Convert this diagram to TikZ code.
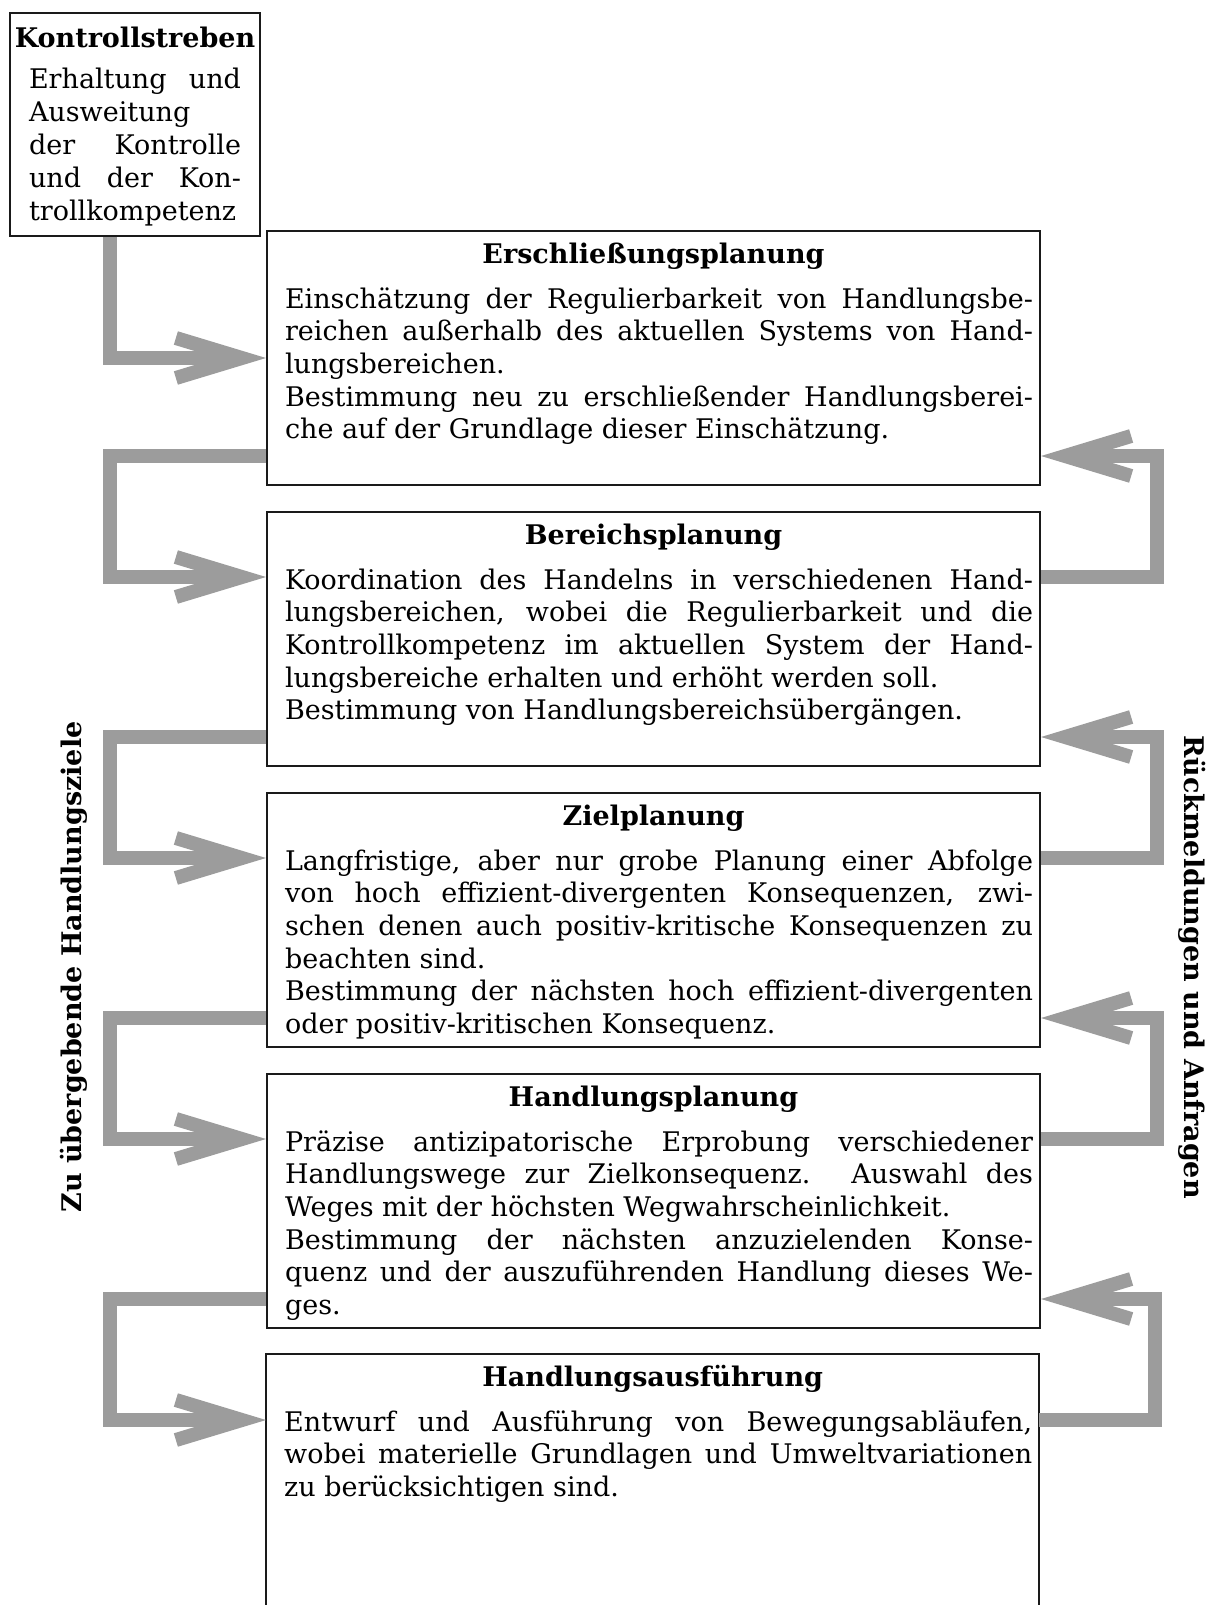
\documentclass[tikz,border=0pt]{standalone}
\usepackage{fontspec}
\setmainfont{DejaVu Serif}
\usetikzlibrary{positioning,arrows.meta}
\definecolor{flowgray}{HTML}{9C9C9C}
\definecolor{rulec}{HTML}{1A1A1A}
\tolerance=9999
\hbadness=10000
\hyphenpenalty=10000
\exhyphenpenalty=10000
\tikzset{
  boxline/.style={draw=rulec, line width=2pt},
  flow/.style={draw=flowgray, line width=14pt, -{Straight Barb[length=66pt,width=40pt,line width=14pt 0]}},
  sidelabel/.style={font=\fontsize{27}{32}\selectfont\bfseries},
}
\newcommand{\plantext}[3]{%
  \parbox[c][#1][t]{773pt}{\fontsize{27}{32.7}\selectfont
    {\centering\rule{0pt}{32pt}\bfseries #2\par}%
    \vspace{12.3pt}%
    {\leftskip=18pt\rightskip=7pt #3\par}}%
}
\begin{document}
\begin{tikzpicture}[x=1pt,y=1pt]
  \useasboundingbox (0,0) rectangle (1218,-1605);
  \coordinate (lx) at (110,0);
  % Kontrollstreben
  \node[boxline, inner sep=0pt, anchor=north west] (kontr) at (9,-12)
    {\parbox[c][223pt][t]{250pt}{\fontsize{27}{33}\selectfont
      {\centering\rule{0pt}{35pt}\bfseries Kontrollstreben\par}%
      \vspace{8pt}%
      {\leftskip=19pt\rightskip=19pt Erhaltung und\linebreak Ausweitung\newline der Kontrolle\linebreak und der Kon-\linebreak trollkompetenz\par}}};
  % Planungsebenen
  \node[boxline, inner sep=0pt, anchor=north west] (erschl) at (266,-230)
    {\plantext{254pt}{Erschließungsplanung}{Einschätzung der Regulierbarkeit von Handlungsbe-\linebreak reichen außerhalb des aktuellen Systems von Hand-\linebreak lungsbereichen.\par Bestimmung neu zu erschließender Handlungsberei-\linebreak che auf der Grundlage dieser Einschätzung.}};
  \node[boxline, inner sep=0pt, anchor=north west] (bereich) at (266,-511)
    {\plantext{254pt}{Bereichsplanung}{Koordination des Handelns in verschiedenen Hand-\linebreak lungsbereichen, wobei die Regulierbarkeit und die\linebreak Kontrollkompetenz im aktuellen System der Hand-\linebreak lungsbereiche erhalten und erhöht werden soll.\par Bestimmung von Handlungsbereichsübergängen.}};
  \node[boxline, inner sep=0pt, anchor=north west] (ziel) at (266,-792)
    {\plantext{254pt}{Zielplanung}{Langfristige, aber nur grobe Planung einer Abfolge\linebreak von hoch effizient-divergenten Konsequenzen, zwi-\linebreak schen denen auch positiv-kritische Konsequenzen zu\linebreak beachten sind.\par Bestimmung der nächsten hoch effizient-divergenten\linebreak oder positiv-kritischen Konsequenz.}};
  \node[boxline, inner sep=0pt, anchor=north west] (handl) at (266,-1073)
    {\plantext{254pt}{Handlungsplanung}{Präzise antizipatorische Erprobung verschiedener\linebreak Handlungswege zur Zielkonsequenz. Auswahl des\linebreak Weges mit der höchsten Wegwahrscheinlichkeit.\par Bestimmung der nächsten anzuzielenden Konse-\linebreak quenz und der auszuführenden Handlung dieses We-\linebreak ges.}};
  \node[inner sep=0pt, anchor=north west] (ausf) at (266,-1354)
    {\plantext{251pt}{Handlungsausführung}{Entwurf und Ausführung von Bewegungsabläufen,\linebreak wobei materielle Grundlagen und Umweltvariationen\linebreak zu berücksichtigen sind.}};
  \draw[boxline] (ausf.south west) -- (ausf.north west) -- (ausf.north east) -- (ausf.south east);
  % Seitenbeschriftungen
  \node[sidelabel, rotate=90] (ziele) at (74,-967) {Zu übergebende Handlungsziele};
  \node[sidelabel, rotate=-90] (rueck) at (1192,-967) {Rückmeldungen und Anfragen};
  % Pfeile
  \draw[flow] (kontr.south -| lx) |- (erschl.west);
  \foreach \a/\b in {erschl/bereich, bereich/ziel, ziel/handl, handl/ausf} {
    \draw[flow] ([yshift=30pt]\a.south west) -- ++(-156,0) |- ([yshift=-66pt]\b.north west);
    \draw[flow] ([yshift=-66pt]\b.north east) -- ++(116,0) |- ([yshift=30pt]\a.south east);
  }
\end{tikzpicture}
\end{document}
